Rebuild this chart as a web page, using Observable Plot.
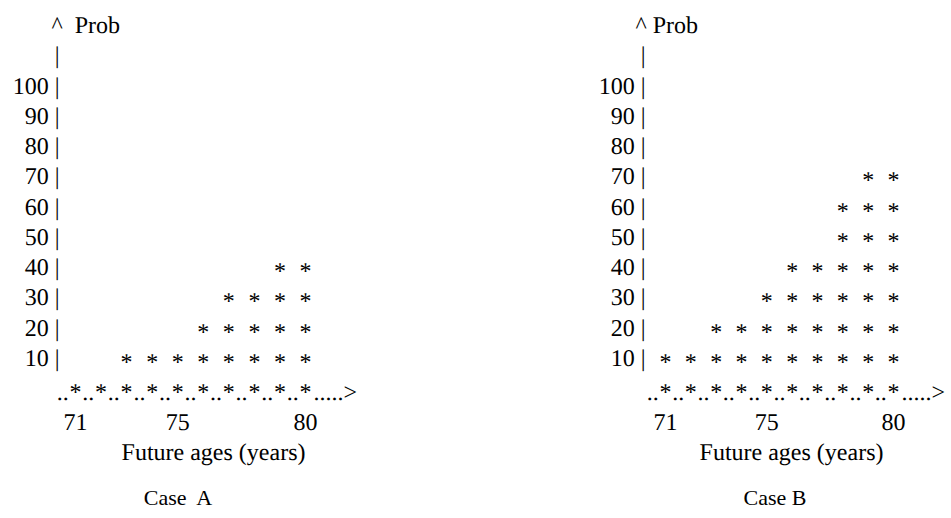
<!DOCTYPE html>
<html>
<head>
<meta charset="utf-8">
<script src="https://cdn.jsdelivr.net/npm/d3@7"></script>
<script src="https://cdn.jsdelivr.net/npm/@observablehq/plot@0.6"></script>
<style>
  html, body { margin: 0; padding: 0; background: #fff; }
  body { width: 951px; height: 518px; overflow: hidden; position: relative;
         font-family: "Liberation Serif", "Times New Roman", serif; color: #000; }
  .panel { position: absolute; top: 0; width: 475px; height: 518px; }
  .panel svg { display: block; text-rendering: geometricPrecision; -webkit-font-smoothing: antialiased; }
  .caption { position: absolute; top: 484px; font-size: 22px; line-height: 28px;
             transform: translateX(-50%); white-space: pre; }
</style>
</head>
<body>
<div id="panelA" class="panel" style="left:0px"></div>
<div id="panelB" class="panel" style="left:475px"></div>
<script>
// ---- data ----
const ages = [71, 72, 73, 74, 75, 76, 77, 78, 79, 80];
const probA = [0, 0, 10, 10, 10, 20, 30, 30, 40, 40];
const probB = [10, 10, 20, 20, 30, 40, 40, 60, 70, 70];
const yTicks = [10, 20, 30, 40, 50, 60, 70, 80, 90, 100, 110];
const xTicks = [71, 75, 80];
const yLabelA = "^\u00a0\u00a0Prob";
const yLabelB = "^\u00a0Prob";
const xLabel = "Future ages (years)";
const captionA = "Case  A";
const captionB = "Case B";

const FONT = '"Liberation Serif", "Times New Roman", serif';

function chart(prob, o) {
  const stars = [];
  ages.forEach((a, i) => {
    for (let l = 10; l <= prob[i]; l += 10) stars.push({age: a, level: l});
  });
  const base = ages.map(a => ({age: a, level: 0}));
  const dots = ages.map(a => ({age: a - 0.5, level: 0}));
  return Plot.plot({
    width: 475, height: 470,
    marginLeft: o.ml, marginRight: o.mr, marginTop: 25, marginBottom: 82,
    x: {domain: [71, 80]},
    y: {domain: [0, 120]},
    style: {fontFamily: FONT, fontSize: "24px", color: "#000", background: "transparent", overflow: "visible"},
    marks: [
      Plot.axisY({ticks: yTicks, tickSize: 0, tickPadding: o.yPad, label: null,
                  tickFormat: d => d === 110 ? "|" : `${d} |`, fontSize: 24, fill: "#000"}),
      Plot.axisX({ticks: xTicks, tickSize: 0, tickPadding: 24, label: null,
                  tickFormat: d => `${d}`, fontSize: 24, fill: "#000"}),
      Plot.text([o.yLabel], {frameAnchor: "top-left", textAnchor: "start", lineAnchor: "middle",
                 dx: o.yLabelDx, dy: 0, fontSize: 24, fill: "#000"}),
      Plot.text(stars, {x: "age", y: "level", text: () => "*", fontSize: 24, dy: 4, fill: "#000"}),
      Plot.text(base, {x: "age", y: "level", text: () => "*", fontSize: 24, dy: 4, fill: "#000"}),
      Plot.text(dots, {x: "age", y: "level", text: () => "..", fontSize: 24, dy: 4, fill: "#000"}),
      Plot.text([ages[ages.length - 1]], {x: d => d, y: () => 0, text: () => ".....>",
                 textAnchor: "start", dx: 8, dy: 4, fontSize: 24, fill: "#000"}),
      Plot.text([xLabel], {frameAnchor: "bottom", dx: o.xLabelDx, dy: 71, fontSize: 24, fill: "#000"})
    ]
  });
}

function caption(parent, text, x) {
  const d = document.createElement("div");
  d.className = "caption";
  d.style.left = x + "px";
  d.textContent = text;
  parent.appendChild(d);
}

const pA = document.getElementById("panelA");
pA.appendChild(chart(probA, {ml: 75, mr: 170, yPad: 16, yLabel: yLabelA, yLabelDx: -24, xLabelDx: 23}));
caption(pA, captionA, 178);

const pB = document.getElementById("panelB");
pB.appendChild(chart(probB, {ml: 190, mr: 57, yPad: 20, yLabel: yLabelB, yLabelDx: -30, xLabelDx: 12}));
caption(pB, captionB, 300);
</script>
</body>
</html>
